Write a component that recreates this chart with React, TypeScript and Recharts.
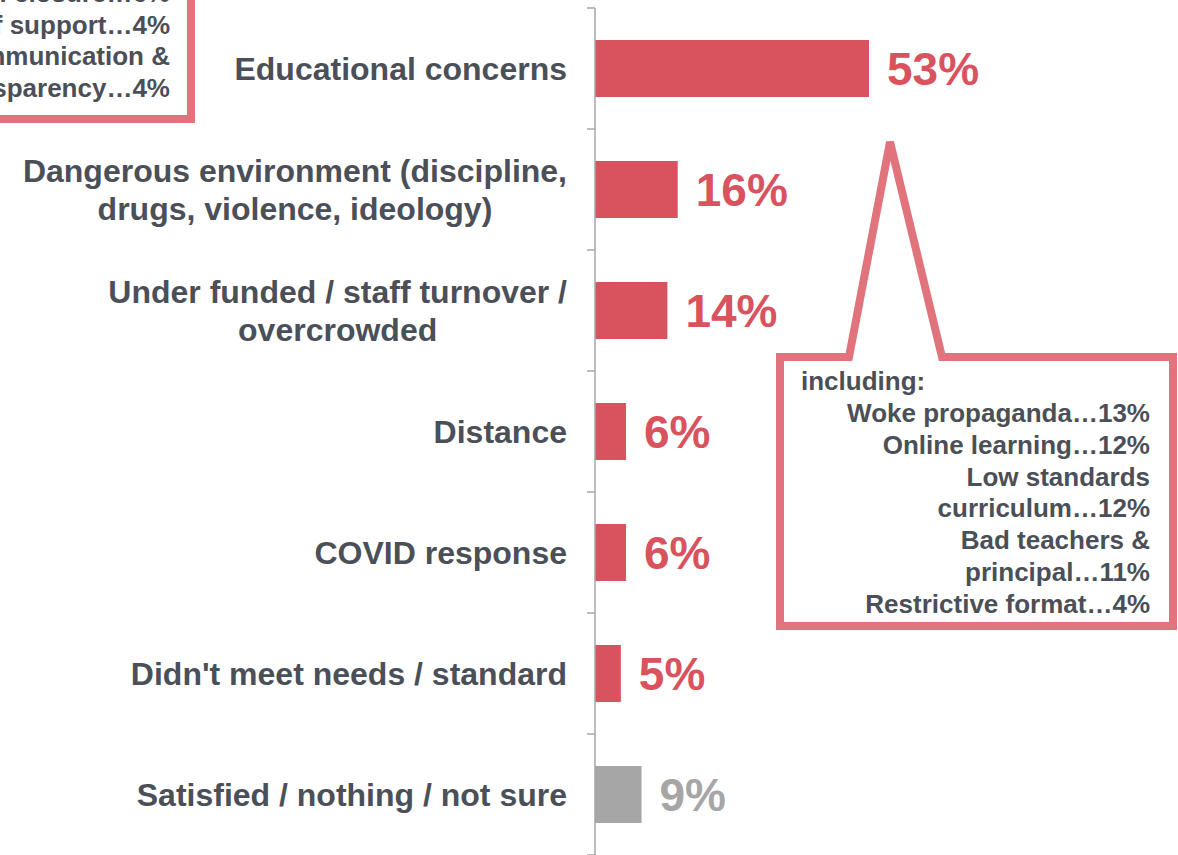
import React from 'react'
import { BarChart, Bar, XAxis, YAxis, Cell, LabelList } from 'recharts'

// Reasons for leaving the previous school (share of respondents, %)
const categories = [
    'Educational concerns',
    'Dangerous environment (discipline,\ndrugs, violence, ideology)',
    'Under funded / staff turnover /\novercrowded',
    'Distance',
    'COVID response',
    "Didn't meet needs / standard",
    'Satisfied / nothing / not sure',
]
const shares = [53, 16, 14, 6, 6, 5, 9]
const neutralCategory = 'Satisfied / nothing / not sure'

// Callout texts
const leftCalloutLines = ['School closure…6%', 'Lack of support…4%', 'Poor communication &', 'transparency…4%']
const rightCalloutTitle = 'including:'
const rightCalloutLines = [
    'Woke propaganda…13%',
    'Online learning…12%',
    'Low standards',
    'curriculum…12%',
    'Bad teachers &',
    'principal…11%',
    'Restrictive format…4%',
]

const data = categories.map((name, i) => ({ name, value: shares[i] }))

const W = 1178
const H = 855
const MARGIN = { top: 8, right: 66, bottom: 0, left: 0 }
const AXIS_X = 595
const BAND = (H - MARGIN.top - MARGIN.bottom) / categories.length

const FONT = '"Liberation Sans", Arial, sans-serif'
const TEXT = '#4B4F58'
const RED = '#D9535F'
const GRAY = '#A6A6A6'
const CALLOUT = '#E0737B'

const colorFor = (name: string) => (name === neutralCategory ? GRAY : RED)

function CategoryTick(props: any) {
    const { y, payload, index } = props
    const top = y - BAND / 2
    return (
        <g>
            <line x1={AXIS_X - 8} x2={AXIS_X} y1={top} y2={top} stroke={GRAY} strokeWidth={1.5} />
            {index === categories.length - 1 && (
                <line x1={AXIS_X - 8} x2={AXIS_X} y1={top + BAND} y2={top + BAND} stroke={GRAY} strokeWidth={1.5} />
            )}
            <foreignObject x={0} y={top} width={567} height={BAND}>
                <div
                    style={{
                        height: '100%',
                        display: 'flex',
                        alignItems: 'center',
                        justifyContent: 'flex-end',
                    }}
                >
                    <span
                        style={{
                            textAlign: 'center',
                            whiteSpace: 'pre-line',
                            fontFamily: FONT,
                            fontWeight: 700,
                            fontSize: 32,
                            lineHeight: '38px',
                            color: TEXT,
                        }}
                    >
                        {payload.value}
                    </span>
                </div>
            </foreignObject>
        </g>
    )
}

function ValueLabel(props: any) {
    const { x, y, width, height, value, index } = props
    return (
        <text
            x={x + width + 18}
            y={y + height / 2 + 16}
            fontFamily={FONT}
            fontWeight={700}
            fontSize={46}
            fill={colorFor(categories[index])}
        >
            {value}%
        </text>
    )
}

export default function App() {
    return (
        <div style={{ position: 'fixed', left: 0, top: 0, width: W, height: H, overflow: 'hidden', background: '#fff' }}>
            <BarChart width={W} height={H} data={data} layout="vertical" margin={MARGIN}>
                <XAxis type="number" domain={[0, 100]} hide />
                <YAxis
                    type="category"
                    dataKey="name"
                    width={AXIS_X}
                    interval={0}
                    axisLine={{ stroke: GRAY, strokeWidth: 1.5 }}
                    tickLine={false}
                    tick={<CategoryTick />}
                />
                <Bar dataKey="value" barSize={57} isAnimationActive={false}>
                    {data.map((d) => (
                        <Cell key={d.name} fill={colorFor(d.name)} />
                    ))}
                    <LabelList dataKey="value" content={<ValueLabel />} />
                </Bar>
            </BarChart>

            {/* Callouts */}
            <svg
                width={W}
                height={H}
                style={{ position: 'absolute', left: 0, top: 0, pointerEvents: 'none' }}
                fontFamily={FONT}
                fontWeight={700}
                fontSize={26}
                fill={TEXT}
            >
                <path d="M -20 -20 H 191 V 119 H -20 Z" fill="#fff" stroke={CALLOUT} strokeWidth={8} />
                {leftCalloutLines.map((t, i) => (
                    <text key={t} x={170} y={2 + i * 31.6} textAnchor="end">
                        {t}
                    </text>
                ))}

                <path
                    d="M 780 357 H 849 L 890 142 L 942 357 H 1173 V 626 H 780 Z"
                    fill="#fff"
                    stroke={CALLOUT}
                    strokeWidth={8}
                    strokeLinejoin="miter"
                />
                <text x={801} y={390}>{rightCalloutTitle}</text>
                {rightCalloutLines.map((t, i) => (
                    <text key={t} x={1150} y={422 + i * 31.8} textAnchor="end">
                        {t}
                    </text>
                ))}
            </svg>
        </div>
    )
}
